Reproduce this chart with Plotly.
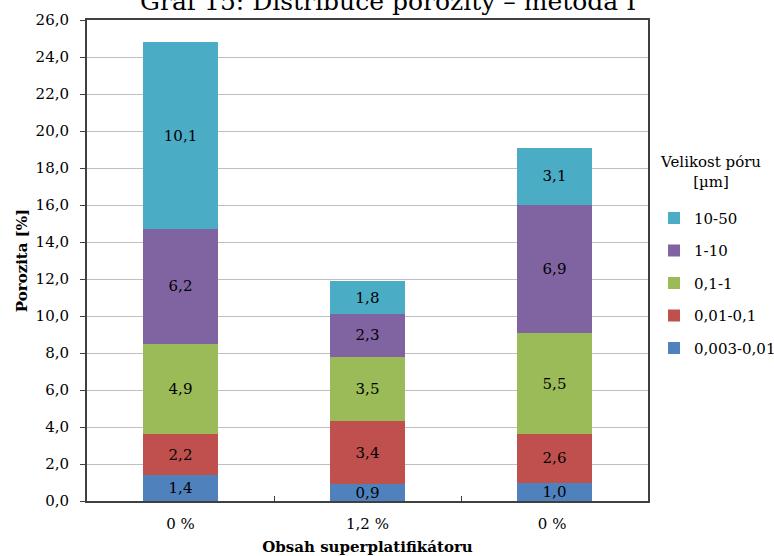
import plotly.graph_objects as go

categories = ["0 %", "1,2 %", "0 % "]
series_names = ["0,003-0,01", "0,01-0,1", "0,1-1", "1-10", "10-50"]
values = {
    "0,003-0,01": [1.4, 0.9, 1.0],
    "0,01-0,1": [2.2, 3.4, 2.6],
    "0,1-1": [4.9, 3.5, 5.5],
    "1-10": [6.2, 2.3, 6.9],
    "10-50": [10.1, 1.8, 3.1],
}
colors = {
    "0,003-0,01": "#4F81BD",
    "0,01-0,1": "#C0504D",
    "0,1-1": "#9BBB59",
    "1-10": "#8064A2",
    "10-50": "#4BACC6",
}

FONT = "DejaVu Serif"
FS = 15

fig = go.Figure()
n = len(series_names)
for i, name in enumerate(series_names):
    fig.add_trace(go.Bar(
        x=categories, y=values[name], name=name,
        marker=dict(color=colors[name], line=dict(width=0)),
        texttemplate="%{y:.1f}", textposition="inside",
        insidetextanchor="middle",
        textfont=dict(family=FONT, size=FS, color="#000000"),
        legendgroup=name, legendrank=n - i,
    ))

fig.update_layout(
    barmode="stack", bargap=0.6,
    separators=", ",
    width=774, height=556,
    margin=dict(l=87, r=126, t=20, b=55, autoexpand=False),
    paper_bgcolor="white", plot_bgcolor="white",
    font=dict(family=FONT, size=FS, color="#000000"),
    uniformtext=dict(minsize=FS, mode="show"),
    showlegend=True,
    legend=dict(
        xref="container", yref="container",
        x=0.845, y=0.637, xanchor="left", yanchor="top",
        traceorder="grouped", tracegroupgap=10,
        font=dict(family=FONT, size=FS, color="#000000"),
        itemwidth=30,
    ),
    annotations=[
        dict(
            text="Graf 15: Distribuce porozity – metoda I",
            xref="paper", yref="paper", x=0.537, y=1.0, yanchor="bottom",
            xanchor="center", yshift=2, showarrow=False,
            font=dict(family=FONT, size=25, color="#000000"),
        ),
        dict(
            text="Velikost póru<br>[µm]", align="center",
            xref="paper", yref="paper", x=1.111, y=0.683, xanchor="center",
            yanchor="middle", showarrow=False,
            font=dict(family=FONT, size=FS, color="#000000"),
        ),
    ],
)

fig.update_yaxes(
    range=[0, 26], dtick=2, tickformat=".1f",
    showgrid=True, gridcolor="#BFBFBF", gridwidth=1,
    showline=True, linecolor="#404040", linewidth=2, mirror=True,
    ticks="outside", ticklen=5, tickcolor="#404040",
    ticklabelstandoff=8, automargin=False,
    tickfont=dict(family=FONT, size=FS, color="#000000"),
    title=dict(text="<b>Porozita [%]</b>", standoff=4,
               font=dict(family=FONT, size=FS, color="#000000")),
    zeroline=False,
)
fig.update_xaxes(
    showline=True, linecolor="#404040", linewidth=2, mirror=True,
    ticks="inside", tickson="boundaries", ticklen=5, tickcolor="#404040",
    ticklabelstandoff=8, automargin=False,
    tickfont=dict(family=FONT, size=FS, color="#000000"),
    title=dict(text="<b>Obsah superplatifikátoru</b>", standoff=9,
               font=dict(family=FONT, size=FS, color="#000000")),
)

fig.write_html("out.html")
